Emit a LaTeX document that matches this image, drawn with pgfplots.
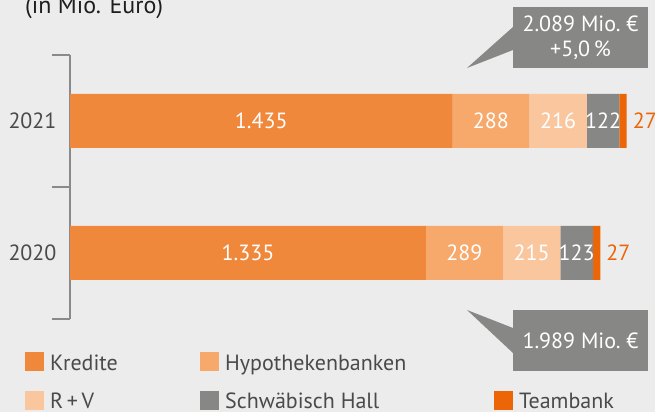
\documentclass[border=0pt]{standalone}
\usepackage{fontspec}
\setmainfont{PT Sans}
\usepackage{pgfplots}
\pgfplotsset{compat=1.18}

\definecolor{bgc}{HTML}{ECECEC}
\definecolor{kred}{HTML}{F0883C}
\definecolor{hypo}{HTML}{F7A96C}
\definecolor{ruv}{HTML}{FAC69E}
\definecolor{sh}{HTML}{878786}
\definecolor{team}{HTML}{EC6608}
\definecolor{axc}{HTML}{8A8A8A}
\definecolor{txtc}{HTML}{4A4A4A}
\definecolor{titlec}{HTML}{1E1E1E}

\begin{document}
\begin{tikzpicture}[x=1pt, y=1pt, font=\fontsize{22}{26}\selectfont]
\useasboundingbox (0,0) rectangle (655,412);
\fill[bgc] (0,0) rectangle (655,412);
\clip (0,0) rectangle (655,412);

\node[anchor=base west, text=titlec, inner sep=0pt, font=\fontsize{24}{28}\selectfont] at (25,398.7) {(in Mio. Euro)};

% bars
\begin{axis}[
  at={(70pt,93pt)}, anchor=south west, scale only axis,
  width=586.5pt, height=264pt,
  xmin=0, xmax=2200, ymin=0, ymax=2,
  /pgf/number format/assume math mode=true,
  xbar stacked, bar width=54pt,
  axis x line=none, axis y line=left,
  y axis line style={draw=axc, line width=1.5pt, -},
  ytick={0,1,2}, yticklabels={},
  major tick length=18pt, tick align=outside,
  ytick style={draw=axc, line width=1.5pt},
  extra y ticks={0.5,1.5}, extra y tick labels={\textnormal{2020},\textnormal{2021}},
  extra y tick style={major tick length=0pt, tick style={draw=none},
    yticklabel style={text=txtc, xshift=-10pt}},
  legend columns=3,
  legend cell align=left,
  legend style={at={(axis description cs:-0.0767,-0.125)}, anchor=north west,
    draw=none, fill=none, inner sep=0pt, row sep=19pt, column sep=0pt,
    nodes={inner sep=0pt, text=txtc}},
  legend image code/.code={\fill[#1] (0pt,-8pt) rectangle (19pt,11pt); \path (25pt,0pt);},
]
\addplot[fill=kred, draw=none] coordinates {(1335,0.5) (1435,1.5)};
\addlegendentry{\makebox[150pt][l]{Kredite}}
\addplot[fill=hypo, draw=none] coordinates {(289,0.5) (288,1.5)};
\addlegendentry{\makebox[269pt][l]{Hypothekenbanken}}
\addlegendimage{empty legend}
\addlegendentry{}
\addplot[fill=ruv, draw=none] coordinates {(215,0.5) (216,1.5)};
\addlegendentry{R\,+\,V}
\addplot[fill=sh, draw=none] coordinates {(123,0.5) (122,1.5)};
\addlegendentry{Schwäbisch Hall}
\addplot[fill=team, draw=none] coordinates {(27,0.5) (27,1.5)};
\addlegendentry{Teambank}
\end{axis}

% value labels
\begin{axis}[
  at={(70pt,93pt)}, anchor=south west, scale only axis,
  width=586.5pt, height=264pt,
  xmin=0, xmax=2200, ymin=0, ymax=2,
  /pgf/number format/assume math mode=true,
  hide axis,
]
\addplot[draw=none, mark=none, nodes near coords={\pgfplotspointmeta}, point meta=explicit symbolic,
  nodes near coords style={text=white, anchor=center, inner sep=0pt}]
  coordinates {
    (717.5,1.5) [1.435] (1579,1.5) [288] (1831,1.5) [216] (2000,1.5) [122]
    (667.5,0.5) [1.335] (1479.5,0.5) [289] (1731.5,0.5) [215] (1900.5,0.5) [123]
  };
\addplot[draw=none, mark=none, nodes near coords={\pgfplotspointmeta}, point meta=explicit symbolic,
  nodes near coords style={text=team, anchor=west, inner sep=0pt, xshift=6pt}]
  coordinates {(2088,1.5) [27] (1989,0.5) [27]};
\end{axis}

% callouts
\fill[sh] (513,344) rectangle (648,405);
\fill[sh] (467,344) -- (513,385) -- (513,362) -- cycle;
\node[text=white, align=center, inner sep=0pt, font=\fontsize{22}{25.5}\selectfont] at (580.5,374) {2.089 Mio.\ €\\+5,0\,\%};
\fill[sh] (513,41) rectangle (648,102);
\fill[sh] (467,102) -- (513,84) -- (513,59) -- cycle;
\node[text=white, inner sep=0pt] at (580.5,71.5) {1.989 Mio.\ €};
\end{tikzpicture}
\end{document}
